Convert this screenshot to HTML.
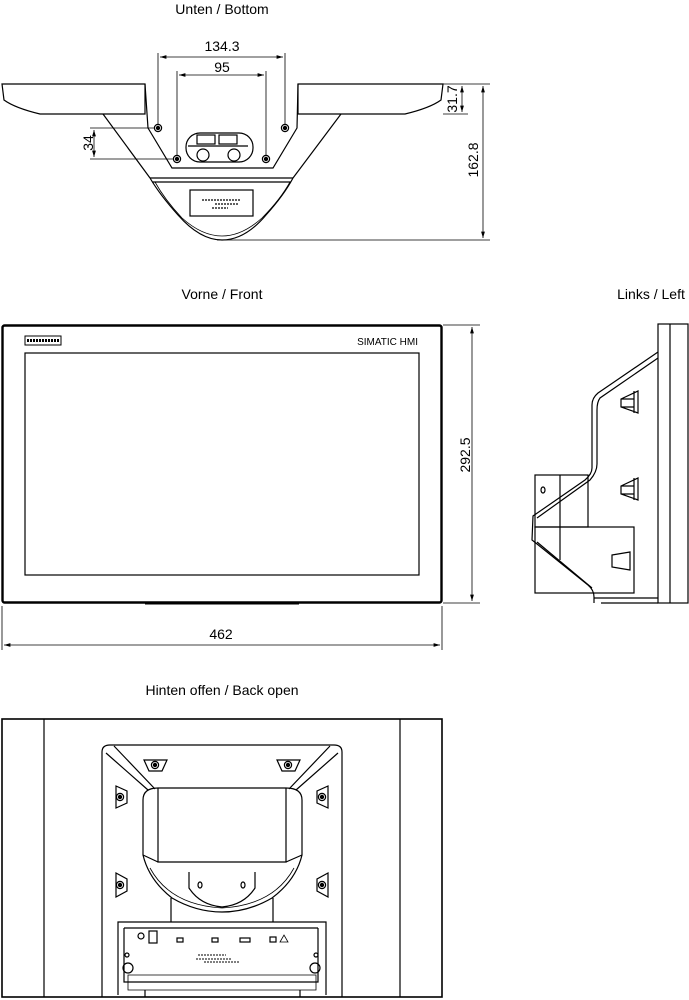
<!DOCTYPE html>
<html><head><meta charset="utf-8"><style>
html,body{margin:0;padding:0;background:#fff;}
svg{display:block;}
text{font-family:"Liberation Sans",sans-serif;fill:#000;}
</style></head><body>
<svg width="689" height="1000" viewBox="0 0 689 1000" xmlns="http://www.w3.org/2000/svg">
<defs>
<marker id="a" viewBox="0 0 10 6" refX="10" refY="3" markerWidth="8" markerHeight="5" orient="auto-start-reverse"><path d="M0,0 L10,3 L0,6 z" fill="#000"/></marker>
<g id="scr"><circle r="3.6" fill="none" stroke="#000" stroke-width="1.2"/><circle r="1.6" fill="#000"/></g>
</defs>
<g fill="none" stroke="#000" stroke-width="1.2">

<!-- ===== BOTTOM VIEW ===== -->
<path d="M2,84 L145,84 L145,114 L40,114 Q15,108 4,100 Z"/>
<path d="M298,84 L443,84 L441,100 Q430,108 405,114 L298,114 Z"/>
<path d="M145,84 L148,128 L172,168 L273,168 L297,128 L298,84"/>
<path d="M103,114 L150,178"/>
<path d="M341,114 L293,178"/>
<path d="M150,178 L293,178 M152,182 L291,182"/>
<path d="M150,178 Q160,195 178,215 Q200,240 222,240 Q245,240 266,215 Q284,195 293,178"/>
<path d="M155,182 Q165,200 182,218 Q202,236 222,236 Q242,236 262,218 Q280,200 290,182" stroke-width="0.8"/>
<rect x="190" y="190" width="63" height="26"/>
<path d="M202,200 h38 M215,204 h24 M212,208 h16" stroke-width="1.2" stroke-dasharray="2 1"/>
<rect x="186" y="133" width="67" height="29" rx="14"/>
<rect x="197" y="135" width="18" height="9"/><rect x="219" y="135" width="18" height="9"/>
<path d="M188,146 h60"/>
<circle cx="203" cy="155" r="6"/><circle cx="234" cy="155" r="6"/>
<use href="#scr" x="158" y="128"/><use href="#scr" x="285" y="128"/>
<use href="#scr" x="177" y="159"/><use href="#scr" x="266" y="159"/>
<!-- dims -->
<g stroke-width="0.8">
<path d="M158,53 V124 M285,53 V124 M177,71 V155 M266,71 V155"/>
<path d="M160,57 H283" marker-start="url(#a)" marker-end="url(#a)"/>
<path d="M179,75 H264" marker-start="url(#a)" marker-end="url(#a)"/>
<path d="M90,128 H154 M90,159 H173"/>
<path d="M94,130 V157" marker-start="url(#a)" marker-end="url(#a)"/>
<path d="M443,84 H490 M443,114 H468 M217,240 H490"/>
<path d="M462,86 V112" marker-start="url(#a)" marker-end="url(#a)"/>
<path d="M483,86 V238" marker-start="url(#a)" marker-end="url(#a)"/>
</g>

<!-- ===== FRONT VIEW ===== -->
<rect x="2.5" y="325.5" width="439" height="277" rx="2" stroke-width="2.4"/>
<rect x="25" y="353" width="394" height="222"/>
<rect x="25" y="336" width="36" height="9" stroke-width="1"/>
<path d="M27,340.5 h32" stroke-width="3" stroke-dasharray="2 1"/>
<path d="M145,604 H299" stroke-width="1"/>
<g stroke-width="0.8">
<path d="M443,325 H480 M443,603 H480"/>
<path d="M472,327 V601" marker-start="url(#a)" marker-end="url(#a)"/>
<path d="M2,606 V650 M442,606 V650"/>
<path d="M4,645 H440" marker-start="url(#a)" marker-end="url(#a)"/>
</g>

<!-- ===== LEFT VIEW ===== -->
<rect x="658" y="324" width="30" height="279"/>
<path d="M670,324 V603"/>
<path d="M658,352 L598,393 Q592,398 592,405 L592,468 Q592,474 585,480 L533,516 L532,540 L588,585 Q594,590 594,597 L594,603"/>
<path d="M658,358 L600,398 Q597,402 597,410 L597,464 Q597,472 590,480 L537,518"/>
<path d="M537,542 L592,588"/>
<rect x="535" y="475" width="53" height="52"/>
<path d="M560,475 V560"/>
<rect x="535" y="527" width="99" height="66"/>
<ellipse cx="543" cy="490" rx="2" ry="3"/>
<path d="M621,399 L638,391 V413 L621,407 Z M621,399 H634 M621,407 H634 M634,391 V413"/>
<path d="M621,486 L638,478 V500 L621,494 Z M621,486 H634 M621,494 H634 M634,478 V500"/>
<path d="M612,555 L630,552 V570 L612,567 Z"/>
<path d="M594,598 H658 M601,603 H658"/>

<!-- ===== BACK VIEW ===== -->
<rect x="2" y="719" width="440" height="278" stroke-width="1.6"/>
<path d="M44,719 V997 M400,719 V997"/>
<path d="M102,997 V752 Q102,745 110,745 L334,745 Q342,745 342,752 V997"/>
<path d="M106,753 L148,790 M114,746 L155,789 M338,753 L296,790 M330,746 L289,789"/>
<path d="M143,800 Q143,788 158,788 L286,788 Q302,788 302,800 L302,855 Q296,880 272,898 Q248,912 222,912 Q196,912 172,898 Q149,880 143,855 Z"/>
<path d="M158,788 V862 H286 V788"/>
<path d="M143,855 L158,862 M302,855 L286,862"/>
<path d="M150,868 Q170,905 222,908" stroke-width="0.8"/>
<path d="M294,868 Q274,905 222,908" stroke-width="0.8"/>
<path d="M189,872 V888 Q200,905 222,907 Q244,905 255,888 V872"/>
<ellipse cx="200" cy="885" rx="2" ry="3"/><ellipse cx="243" cy="885" rx="2" ry="3"/>
<path d="M171,898 V922 M273,898 V922"/>
<path d="M118,995 V922 H326 V995"/>
<path d="M124,928 H318 M124,928 V982 H318 V928"/>
<path d="M128,975 H316 V990 H128 Z" stroke-width="0.8"/>
<path d="M145,990 V997 M300,990 V997"/>
<circle cx="128" cy="968" r="5"/><circle cx="315" cy="968" r="5"/>
<circle cx="127" cy="955" r="2"/><circle cx="316" cy="955" r="2"/>
<circle cx="141" cy="936" r="3"/>
<rect x="149" y="931" width="8" height="12"/>
<rect x="177" y="938" width="6" height="4"/><rect x="212" y="938" width="6" height="4"/><rect x="240" y="938" width="10" height="4"/><rect x="270" y="937" width="6" height="5"/>
<path d="M280,942 L284,935 L288,942 Z" stroke-width="0.8"/>
<path d="M198,955 h28 M196,959 h36 M204,962 h36" stroke-width="1" stroke-dasharray="2 1"/>
<!-- screws back -->
<path d="M144,760 H167 L162,771 H149 Z"/><use href="#scr" x="155" y="765"/>
<path d="M277,760 H300 L295,771 H282 Z"/><use href="#scr" x="288" y="765"/>
<path d="M116,786 L127,791 V803 L116,808 Z"/><use href="#scr" x="120" y="797"/>
<path d="M328,786 L317,791 V803 L328,808 Z"/><use href="#scr" x="322" y="797"/>
<path d="M116,873 L127,879 V891 L116,897 Z"/><use href="#scr" x="120" y="885"/>
<path d="M328,873 L317,879 V891 L328,897 Z"/><use href="#scr" x="322" y="885"/>
</g>

<!-- texts -->
<text x="222" y="14" font-size="14" text-anchor="middle">Unten / Bottom</text>
<text x="222" y="51" font-size="14" text-anchor="middle">134.3</text>
<text x="222" y="72" font-size="14" text-anchor="middle">95</text>
<text transform="translate(93,143) rotate(-90)" font-size="14" text-anchor="middle">34</text>
<text transform="translate(457,99) rotate(-90)" font-size="14" text-anchor="middle">31.7</text>
<text transform="translate(478,160) rotate(-90)" font-size="14" text-anchor="middle">162.8</text>
<text x="222" y="299" font-size="14" text-anchor="middle">Vorne / Front</text>
<text x="651" y="299" font-size="14" text-anchor="middle">Links / Left</text>
<text x="418" y="345" font-size="10" text-anchor="end">SIMATIC HMI</text>
<text transform="translate(470,455) rotate(-90)" font-size="14" text-anchor="middle">292.5</text>
<text x="221" y="639" font-size="14" text-anchor="middle">462</text>
<text x="222" y="695" font-size="14" text-anchor="middle">Hinten offen / Back open</text>
</svg>
</body></html>
